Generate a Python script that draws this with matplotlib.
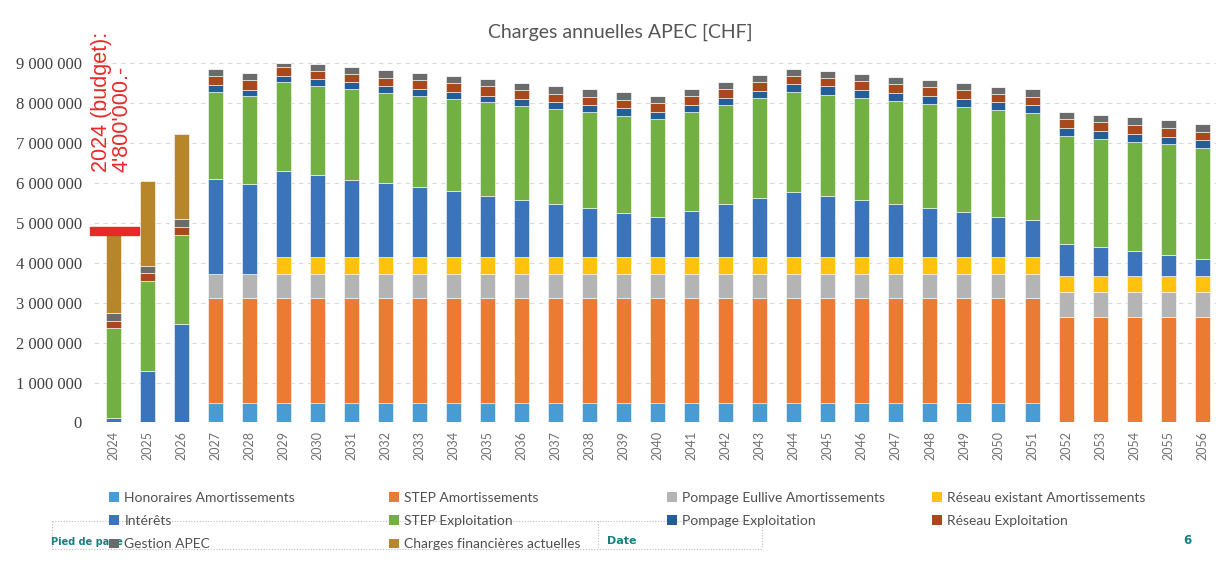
import numpy as np
import matplotlib.pyplot as plt
from matplotlib.patches import Rectangle, Patch
from matplotlib.lines import Line2D
from matplotlib.ticker import FuncFormatter

# values, in millions CHF (2024 .. 2056)
years = [str(y) for y in range(2024, 2057)]

honoraires_amort = [0, 0, 0] + [0.50] * 25 + [0] * 5
step_amort = [0, 0, 0] + [2.61] * 25 + [2.64] * 5
pompage_eullive_amort = [0, 0, 0] + [0.62] * 30
reseau_existant_amort = [0] * 5 + [0.42] * 28
interets = [0.10, 1.29, 2.46, 2.36, 2.24, 2.14, 2.05, 1.93, 1.84, 1.74, 1.64,
            1.53, 1.43, 1.32, 1.22, 1.11, 1.01, 1.16, 1.32, 1.47, 1.62, 1.53,
            1.43, 1.33, 1.22, 1.12, 1.01, 0.93, 0.79, 0.71, 0.62, 0.52, 0.41]
step_exploitation = [2.26, 2.26, 2.24, 2.20, 2.20, 2.23, 2.23, 2.27, 2.27, 2.30,
                     2.31, 2.34, 2.36, 2.38, 2.40, 2.42, 2.45, 2.47, 2.49, 2.51,
                     2.52, 2.53, 2.55, 2.58, 2.61, 2.63, 2.67, 2.67, 2.71, 2.72,
                     2.74, 2.77, 2.78]
pompage_exploitation = [0, 0, 0, 0.17, 0.17, 0.17, 0.18, 0.17, 0.17, 0.17, 0.17,
                        0.17, 0.17, 0.17, 0.18, 0.19, 0.18, 0.18, 0.18, 0.18,
                        0.20, 0.21, 0.20, 0.19, 0.19, 0.20, 0.19, 0.20, 0.19,
                        0.20, 0.20, 0.19, 0.21]
reseau_exploitation = [0.19, 0.19, 0.21, 0.22, 0.23, 0.21, 0.21, 0.22, 0.21, 0.22,
                       0.23, 0.23, 0.23, 0.22, 0.21, 0.21, 0.21, 0.21, 0.21, 0.22,
                       0.20, 0.21, 0.22, 0.23, 0.23, 0.22, 0.21, 0.21, 0.23, 0.21,
                       0.22, 0.23, 0.21]
gestion_apec = [0.19, 0.18, 0.18, 0.18, 0.18, 0.10, 0.16, 0.18, 0.19, 0.18, 0.18,
                0.18, 0.17, 0.20, 0.20, 0.19, 0.19, 0.19, 0.19, 0.18, 0.18, 0.18,
                0.19, 0.17, 0.19, 0.18, 0.18, 0.20, 0.18, 0.19, 0.19, 0.18, 0.19]
charges_financieres = [1.96, 2.13, 2.13] + [0] * 30

budget_2024 = 4.8  # millions

series = [
    ("Honoraires Amortissements", honoraires_amort, "#4A9BD1"),
    ("STEP Amortissements", step_amort, "#EB7A32"),
    ("Pompage Eullive Amortissements", pompage_eullive_amort, "#B4B4B4"),
    ("Réseau existant Amortissements", reseau_existant_amort, "#FFC20E"),
    ("Intérêts", interets, "#3C74BC"),
    ("STEP Exploitation", step_exploitation, "#72B043"),
    ("Pompage Exploitation", pompage_exploitation, "#245E98"),
    ("Réseau Exploitation", reseau_exploitation, "#A9481B"),
    ("Gestion APEC", gestion_apec, "#6B6B6B"),
    ("Charges financières actuelles", charges_financieres, "#B8862A"),
]

fig = plt.figure(figsize=(12.19, 5.73), dpi=100)
ax = fig.add_axes([0.0774, 0.2627, 0.920, 0.6407])

x = np.arange(len(years))
bottom = np.zeros(len(years))
handles = []
for name, vals, col in series:
    v = np.array(vals) * 1e6
    ax.bar(x, v, 0.44, bottom=bottom, color=col, edgecolor="white", linewidth=0.4, zorder=3)
    bottom += v
    handles.append(Patch(facecolor=col, label=name))

ax.set_xlim(-0.55, 32.4)
ax.set_ylim(0, 9.2e6)
ax.set_yticks(np.arange(0, 9.01e6, 1e6))
ax.yaxis.set_major_formatter(FuncFormatter(lambda v, p: f"{int(v):,}".replace(",", " ")))
ax.set_xticks(x)
ax.set_xticklabels(years, rotation=90, fontsize=9, color="#707070", family="Lato")
for lab in ax.get_yticklabels():
    lab.set_fontfamily("Liberation Serif")
    lab.set_fontsize(12)
    lab.set_color("#404040")
ax.tick_params(length=0)
ax.tick_params(axis="y", pad=9)
ax.tick_params(axis="x", pad=6)
ax.grid(axis="y", color="#dadada", linestyle=(0, (4, 4)), linewidth=0.8, zorder=0)
for s in ax.spines.values():
    s.set_visible(False)

# budget marker 2024
ax.add_patch(Rectangle((-0.68, budget_2024 * 1e6 - 0.09e6), 1.44, 0.18e6,
                       color="#E82A27", zorder=4, clip_on=False))
ax.text(-0.04, 6.28e6, "2024 (budget):\n4'800'000.-", rotation=90, color="#E82A27",
        fontsize=15.5, family="Liberation Sans", ha="center", va="bottom",
        multialignment="left", linespacing=0.95, zorder=5)

fig.text(620 / 1219, 1 - 32 / 573, "Charges annuelles APEC [CHF]", ha="center", va="center",
         fontsize=14, color="#555555", family="Lato")

# legend, 4 columns
cols = [[0, 4, 8], [1, 5, 9], [2, 6], [3, 7]]
col_x = [109, 389, 667, 932]
for cx, idx in zip(col_x, cols):
    leg = fig.legend([handles[i] for i in idx], [handles[i].get_label() for i in idx],
                     loc="upper left", bbox_to_anchor=(cx / 1219, 1 - 492 / 573),
                     frameon=False, ncol=1, handlelength=0.7, handleheight=0.7,
                     handletextpad=0.4, labelspacing=0.8, borderaxespad=0, borderpad=0,
                     prop={"family": "Lato", "size": 10})
    for t in leg.get_texts():
        t.set_color("#505050")

# footer box of the slide
box = dict(color="#bbbbbb", linestyle=(0, (1, 1.5)), linewidth=0.8)
for (x0, y0, x1, y1) in [(52, 521, 762, 521), (52, 549, 762, 549), (52, 521, 52, 549),
                         (598, 521, 598, 549), (762, 521, 762, 549)]:
    fig.add_artist(Line2D([x0 / 1219, x1 / 1219], [1 - y0 / 573, 1 - y1 / 573], **box))
fig.text(51 / 1219, 1 - 542 / 573, "Pied de page", color="#17807E", fontsize=7,
         fontweight="bold", family="Liberation Sans Narrow", va="center")
fig.text(607 / 1219, 1 - 541 / 573, "Date", color="#17807E", fontsize=8,
         fontweight="bold", family="Liberation Sans Narrow", va="center")
fig.text(1183 / 1219, 1 - 541 / 573, "6", color="#17807E", fontsize=8.5,
         fontweight="bold", family="Liberation Sans Narrow", va="center")

fig.savefig("out.png", dpi=100)
